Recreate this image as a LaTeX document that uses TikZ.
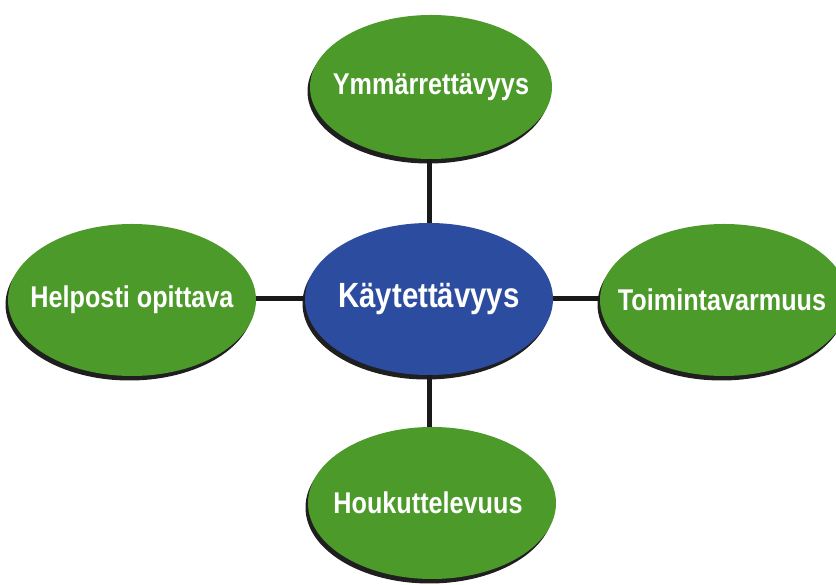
\documentclass[tikz,border=0pt]{standalone}
\usepackage{fontspec}
\newfontfamily\lbl{Liberation Sans}[FakeStretch=0.84]
\usetikzlibrary{shapes.geometric,shadows}
\definecolor{leafgreen}{RGB}{76,154,42}
\definecolor{hubblue}{RGB}{44,76,160}
\begin{document}
\begin{tikzpicture}[x=1pt,y=1pt,
  oval/.style={ellipse, inner sep=0pt, minimum width=248pt, minimum height=152pt,
    text=white, font=\lbl\bfseries\fontsize{30}{30}\selectfont,
    drop shadow={shadow xshift=-2.5pt, shadow yshift=-4.5pt, fill=black!88, opacity=1}},
  leaf/.style={oval, fill=leafgreen},
  hub/.style={oval, fill=hubblue, font=\lbl\bfseries\fontsize{35}{35}\selectfont},
  link/.style={line width=5pt, black!90}]
\useasboundingbox (0,0) rectangle (836,585);
\node[hub]  (c) at (429,286) {\makebox[0pt]{Käytettävyys}};
\node[leaf, minimum height=144pt, minimum width=242pt] (t) at (431,498) {\makebox[0pt]{Ymmärrettävyys}};
\node[leaf] (l) at (132,285) {\makebox[0pt]{Helposti opittava}};
\node[leaf] (r) at (724,285) {\makebox[0pt]{\hspace*{-4pt}Toimintavarmuus}};
\node[leaf] (b) at (432,82) {\makebox[0pt]{\hspace*{-8pt}Houkuttelevuus}};
\draw[link] (c.north) -- (c.north |- t.south);
\draw[link] (c.south) -- (c.south |- b.north);
\draw[link] (c.west) -- (l.east |- c.west);
\draw[link] (c.east) -- (r.west |- c.east);
\end{tikzpicture}
\end{document}
